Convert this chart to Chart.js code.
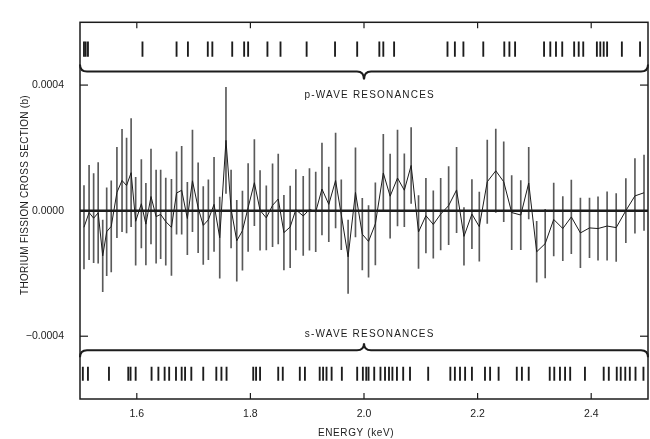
<!DOCTYPE html>
<html>
<head>
<meta charset="utf-8">
<script src="https://cdn.jsdelivr.net/npm/chart.js@4.4.1/dist/chart.umd.min.js"></script>
<style>
  html, body { margin: 0; padding: 0; background: #fff; }
  canvas { display: block; }
</style>
</head>
<body>
<canvas id="chart" width="650" height="439"></canvas>
<script>
(function () {
  'use strict';

  var FONT = '"Liberation Sans", Arial, sans-serif';
  var INK = '#1c1c1c';
  var UNIT = 1e-4; // values below are in units of 1e-4 b

  // bin energies (keV)
  var energy = [
    1.507, 1.516, 1.524, 1.532, 1.540, 1.547, 1.555, 1.565, 1.574, 1.582,
    1.590, 1.598, 1.608, 1.616, 1.625, 1.634, 1.642, 1.651, 1.661, 1.670,
    1.679, 1.689, 1.698, 1.708, 1.717, 1.726, 1.736, 1.746, 1.757, 1.766,
    1.776, 1.786, 1.796, 1.807, 1.817, 1.828, 1.839, 1.849, 1.859, 1.870,
    1.880, 1.893, 1.904, 1.915, 1.926, 1.938, 1.950, 1.960, 1.972, 1.985,
    1.997, 2.008, 2.020, 2.034, 2.046, 2.059, 2.071, 2.083, 2.096, 2.109,
    2.122, 2.135, 2.149, 2.163, 2.176, 2.190, 2.203, 2.217, 2.232, 2.246,
    2.260, 2.276, 2.290, 2.304, 2.319, 2.334, 2.350, 2.365, 2.381, 2.397,
    2.412, 2.428, 2.444, 2.461, 2.477, 2.493
  ];

  // thorium fission cross section (1e-4 b)
  var crossSection = [
    -0.53, -0.06, -0.24, -0.07, -1.44, -0.67, -0.50, 0.58, 0.96, 0.80,
    1.21, -0.34, 0.22, -0.43, 0.45, -0.19, -0.12, -0.35, -0.53, 0.56,
    0.65, -0.25, 0.95, 0.09, -0.47, -0.29, 0.20, -0.86, 2.24, 0.05,
    -0.96, -0.64, 0.10, 0.89, 0.01, -0.23, 0.17, 0.37, -0.70, -0.52,
    0.03, -0.17, 0.04, -0.04, 0.69, 0.20, 0.96, -0.13, -1.47, 0.58,
    -0.75, -0.98, -0.42, 1.20, 0.46, 1.04, 0.65, 1.44, -0.68, -0.16,
    -0.44, -0.11, 0.16, 0.66, -0.82, -0.11, -0.51, 0.92, 1.27, 0.92,
    -0.06, -0.14, 0.88, -1.31, -1.05, -0.28, -0.57, -0.20, -0.71, -0.55,
    -0.57, -0.49, -0.54, 0.00, 0.47, 0.57
  ];

  // one-sigma errors (1e-4 b)
  var sigma = [
    1.33, 1.50, 1.42, 1.60, 1.14, 1.40, 1.45, 1.44, 1.63, 1.51,
    1.72, 1.40, 1.41, 1.30, 1.51, 1.48, 1.41, 1.39, 1.53, 1.31,
    1.40, 1.15, 1.62, 1.43, 1.24, 1.27, 1.50, 1.29, 1.69, 1.24,
    1.29, 1.26, 1.40, 1.37, 1.27, 1.02, 1.32, 1.43, 1.19, 1.30,
    1.28, 1.26, 1.30, 1.27, 1.46, 1.19, 1.51, 1.11, 1.17, 1.42,
    1.14, 1.14, 1.31, 1.23, 1.34, 1.53, 1.16, 1.21, 1.16, 1.19,
    1.07, 1.14, 1.24, 1.36, 0.92, 1.10, 1.10, 1.33, 1.33, 1.27,
    1.18, 1.10, 1.14, 0.97, 1.09, 1.16, 1.02, 1.17, 1.11, 0.95,
    1.01, 1.09, 1.08, 1.02, 1.19, 1.20
  ];

  // resonance energies (keV)
  var pWave = [
    1.507, 1.510, 1.514, 1.610, 1.670, 1.690, 1.725, 1.733, 1.768, 1.789,
    1.796, 1.830, 1.853, 1.899, 1.949, 1.988, 2.027, 2.034, 2.053, 2.147,
    2.160, 2.175, 2.210, 2.247, 2.256, 2.266, 2.317, 2.328, 2.338, 2.349,
    2.370, 2.378, 2.386, 2.410, 2.416, 2.422, 2.428, 2.454, 2.486
  ];
  var sWave = [
    1.505, 1.514, 1.551, 1.585, 1.589, 1.598, 1.626, 1.638, 1.649, 1.657,
    1.669, 1.679, 1.685, 1.696, 1.717, 1.740, 1.749, 1.758, 1.805, 1.810,
    1.817, 1.849, 1.857, 1.887, 1.896, 1.922, 1.928, 1.934, 1.943, 1.961,
    1.988, 1.998, 2.004, 2.008, 2.018, 2.029, 2.037, 2.044, 2.050, 2.058,
    2.069, 2.081, 2.113, 2.152, 2.160, 2.169, 2.178, 2.190, 2.213, 2.222,
    2.237, 2.269, 2.278, 2.290, 2.327, 2.335, 2.345, 2.354, 2.363, 2.389,
    2.422, 2.431, 2.445, 2.452, 2.460, 2.468, 2.478, 2.492
  ];

  var xTicks = [1.6, 1.8, 2.0, 2.2, 2.4];
  var yTicks = [-0.0004, 0, 0.0004];

  // marker bands and brace levels (b)
  var pBand = [0.000491, 0.000538];
  var sBand = [-0.000541, -0.000498];
  var pBraceY = 0.000443;
  var sBraceY = -0.000445;

  function line(ctx, x1, y1, x2, y2) {
    ctx.beginPath();
    ctx.moveTo(x1, y1);
    ctx.lineTo(x2, y2);
    ctx.stroke();
  }

  // endDy: where the brace ends bend to, tipDy: the middle point
  function brace(ctx, x1, x2, xc, y, endDy, tipDy) {
    ctx.beginPath();
    ctx.moveTo(x1, y + endDy);
    ctx.quadraticCurveTo(x1, y, x1 + 7, y);
    ctx.lineTo(xc - 7, y);
    ctx.quadraticCurveTo(xc, y, xc, y + tipDy);
    ctx.quadraticCurveTo(xc, y, xc + 7, y);
    ctx.lineTo(x2 - 7, y);
    ctx.quadraticCurveTo(x2, y, x2, y + endDy);
    ctx.stroke();
  }

  var decorations = {
    id: 'decorations',
    afterDatasetsDraw: function (chart) {
      var ctx = chart.ctx;
      var a = chart.chartArea;
      var xs = chart.scales.x;
      var ys = chart.scales.y;
      ctx.save();
      ctx.strokeStyle = INK;
      ctx.lineCap = 'butt';

      ctx.lineWidth = 2.5;
      var y0 = ys.getPixelForValue(0);
      line(ctx, a.left, y0, a.right, y0);

      ctx.lineWidth = 1.5;
      ctx.strokeRect(a.left, a.top, a.right - a.left, a.bottom - a.top);

      ctx.lineWidth = 1.2;
      xTicks.forEach(function (v) {
        var px = xs.getPixelForValue(v);
        line(ctx, px, a.top, px, a.top + 6);
        line(ctx, px, a.bottom, px, a.bottom - 6);
      });
      yTicks.forEach(function (v) {
        if (v === 0) {
          return;
        }
        var py = ys.getPixelForValue(v);
        line(ctx, a.left, py, a.left + 8, py);
        line(ctx, a.right, py, a.right - 8, py);
      });

      ctx.lineWidth = 2;
      var xc = xs.getPixelForValue(2.0);
      brace(ctx, a.left, a.right, xc, ys.getPixelForValue(pBraceY), -7, 8);
      brace(ctx, a.left, a.right, xc, ys.getPixelForValue(sBraceY), 7, -7);

      ctx.fillStyle = INK;
      ctx.textAlign = 'center';
      ctx.textBaseline = 'middle';
      ctx.font = '10px ' + FONT;
      ctx.letterSpacing = '1.2px';
      var lx = xs.getPixelForValue(2.01);
      ctx.fillText('p-WAVE RESONANCES', lx, ys.getPixelForValue(0.000369));
      ctx.fillText('s-WAVE RESONANCES', lx, ys.getPixelForValue(-0.000395));

      ctx.letterSpacing = '0.6px';
      ctx.font = '10px ' + FONT;
      ctx.fillText('ENERGY (keV)', xs.getPixelForValue(1.986), 433);

      ctx.letterSpacing = '0.3px';
      ctx.translate(25, 195);
      ctx.rotate(-Math.PI / 2);
      ctx.font = '10px ' + FONT;
      ctx.fillText('THORIUM FISSION CROSS SECTION (b)', 0, 0);
      ctx.restore();
    },
  };

  var points = energy.map(function (e, i) {
    return { x: e, y: crossSection[i] * UNIT };
  });
  var errorBars = energy.map(function (e, i) {
    return {
      x: e,
      y: [(crossSection[i] - sigma[i]) * UNIT, (crossSection[i] + sigma[i]) * UNIT],
    };
  });
  function markers(list, band) {
    return list.map(function (e) {
      return { x: e, y: band.slice() };
    });
  }

  var tickFont = { family: FONT, size: 10.5 };

  new Chart(document.getElementById('chart'), {
    type: 'bar',
    data: {
      datasets: [
        {
          type: 'line',
          data: points,
          borderColor: INK,
          borderWidth: 1,
          pointRadius: 0,
          fill: false,
          tension: 0,
        },
        {
          type: 'bar',
          data: errorBars,
          backgroundColor: '#5a5a5a',
          barThickness: 1,
          grouped: false,
        },
        {
          type: 'bar',
          data: markers(pWave, pBand),
          backgroundColor: INK,
          barThickness: 1.2,
          grouped: false,
        },
        {
          type: 'bar',
          data: markers(sWave, sBand),
          backgroundColor: INK,
          barThickness: 1.2,
          grouped: false,
        },
      ],
    },
    options: {
      responsive: false,
      animation: false,
      devicePixelRatio: 1,
      events: [],
      layout: { padding: { top: 12, right: 2, left: 0, bottom: 0 } },
      plugins: {
        legend: { display: false },
        tooltip: { enabled: false },
      },
      scales: {
        x: {
          type: 'linear',
          min: 1.5,
          max: 2.5,
          offset: false,
          grid: { display: false, drawTicks: false },
          border: { display: false },
          afterBuildTicks: function (s) {
            s.ticks = xTicks.map(function (v) {
              return { value: v };
            });
          },
          afterFit: function (s) {
            s.height = 40;
          },
          ticks: {
            padding: 9,
            color: INK,
            font: tickFont,
            maxRotation: 0,
            autoSkip: false,
            callback: function (v) {
              return v.toFixed(1);
            },
          },
        },
        y: {
          type: 'linear',
          min: -0.0006,
          max: 0.0006,
          grid: { display: false, drawTicks: false },
          border: { display: false },
          afterBuildTicks: function (s) {
            s.ticks = yTicks.map(function (v) {
              return { value: v };
            });
          },
          afterFit: function (s) {
            s.width = 80;
          },
          ticks: {
            padding: 16,
            color: INK,
            font: tickFont,
            callback: function (v) {
              if (v === 0) {
                return '0.0000';
              }
              return (v < 0 ? '\u2212' : '') + Math.abs(v).toFixed(4);
            },
          },
        },
      },
    },
    plugins: [decorations],
  });
})();
</script>
</body>
</html>
